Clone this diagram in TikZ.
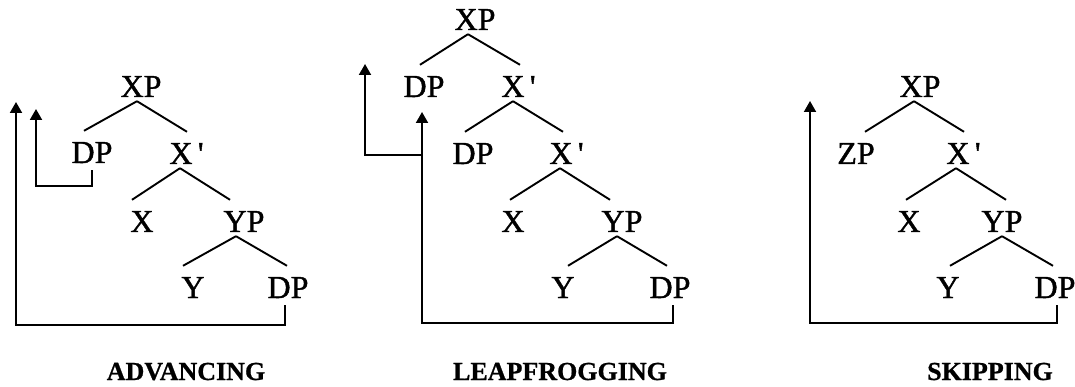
\documentclass[tikz,border=0pt]{standalone}
\usepackage{fontspec}
\setmainfont{Liberation Serif}
\newfontfamily\treefont{Liberation Serif}[FakeBold=1.3]
\newfontfamily\capfont{Liberation Serif Bold}[FakeBold=0.8]
\usetikzlibrary{arrows.meta}
\begin{document}
\begin{tikzpicture}[x=1pt,y=-1pt,
  lab/.style={font=\treefont\fontsize{32}{32}\selectfont, inner sep=0pt, text height=32pt, text depth=4pt, anchor=base},
  captext/.style={font=\capfont\fontsize{26}{26}\selectfont, inner sep=0pt, anchor=base},
  br/.style={line width=1.9pt},
  mv/.style={line width=1.9pt, -{Triangle[width=12pt,length=11pt]}}]
\useasboundingbox (0,0) rectangle (1075,387);

% ---------- ADVANCING ----------
\node[lab] (XP1) at (141,97) {XP};
\node[lab] (DP1) at (92,163) {DP};
\node[lab] (Xb1) at (181,164) {X\rlap{\,'}};
\node[lab] (X1) at (142,232) {X};
\node[lab] (YP1) at (244,232) {YP};
\node[lab] (Y1) at (193,298) {Y};
\node[lab] (DPb1) at (288,298) {DP};
\draw[br] ([xshift=-4pt]XP1.south) -- ([xshift=-8pt]DP1.north);
\draw[br] ([xshift=-4pt]XP1.south) -- ([xshift=6pt]Xb1.north);
\draw[br] ([xshift=-1pt]Xb1.south) -- ([xshift=-10pt]X1.north);
\draw[br] ([xshift=-1pt]Xb1.south) -- ([xshift=-14pt]YP1.north);
\draw[br] ([xshift=-8pt]YP1.south) -- ([xshift=-10pt]Y1.north);
\draw[br] ([xshift=-8pt]YP1.south) -- ([xshift=-1pt]DPb1.north);
\coordinate (t1a) at (36,109);
\coordinate (c1a) at (36,186);
\draw[mv] ([yshift=-3pt]DP1.south) |- (c1a) -- (t1a);
\coordinate (t1b) at (16,102);
\coordinate (c1b) at (16,325);
\draw[mv] ([xshift=-3pt,yshift=-3pt]DPb1.south) |- (c1b) -- (t1b);

% ---------- LEAPFROGGING ----------
\node[lab] (XP2) at (475,30) {XP};
\node[lab] (DP2a) at (424,97) {DP};
\node[lab] (Xb2a) at (513,97) {X\rlap{\,'}};
\node[lab] (DP2b) at (473,164) {DP};
\node[lab] (Xb2b) at (561,164) {X\rlap{\,'}};
\node[lab] (X2) at (513,232) {X};
\node[lab] (YP2) at (622,232) {YP};
\node[lab] (Y2) at (563,298) {Y};
\node[lab] (DPb2) at (670,298) {DP};
\draw[br] ([xshift=-7pt]XP2.south) -- ([xshift=-4pt]DP2a.north);
\draw[br] ([xshift=-7pt]XP2.south) -- ([xshift=7pt]Xb2a.north);
\draw[br] (Xb2a.south) -- ([xshift=-8pt]DP2b.north);
\draw[br] (Xb2a.south) -- ([xshift=2pt]Xb2b.north);
\draw[br] ([xshift=-1pt]Xb2b.south) -- ([xshift=-3pt]X2.north);
\draw[br] ([xshift=-1pt]Xb2b.south) -- ([xshift=-12pt]YP2.north);
\draw[br] ([xshift=-5pt]YP2.south) -- ([xshift=5pt]Y2.north);
\draw[br] ([xshift=-5pt]YP2.south) -- ([xshift=-3pt]DPb2.north);
\coordinate (t2a) at (422,112);
\coordinate (c2b) at (422,323);
\draw[mv] ([xshift=3pt,yshift=-3pt]DPb2.south) |- (c2b) -- (t2a);
\coordinate (j2) at (422,155);
\coordinate (c2a) at (365,155);
\coordinate (t2b) at (365,64);
\draw[mv] (j2) -- (c2a) -- (t2b);

% ---------- SKIPPING ----------
\node[lab] (XP3) at (920,97) {XP};
\node[lab] (ZP3) at (856,164) {ZP};
\node[lab] (Xb3) at (958,164) {X\rlap{\,'}};
\node[lab] (X3) at (909,232) {X};
\node[lab] (YP3) at (1002,232) {YP};
\node[lab] (Y3) at (948,298) {Y};
\node[lab] (DPb3) at (1055,298) {DP};
\draw[br] ([xshift=-6pt]XP3.south) -- ([xshift=9pt]ZP3.north);
\draw[br] ([xshift=-6pt]XP3.south) -- ([xshift=6pt]Xb3.north);
\draw[br] ([xshift=-2pt]Xb3.south) -- ([xshift=-3pt]X3.north);
\draw[br] ([xshift=-2pt]Xb3.south) -- ([xshift=4pt]YP3.north);
\draw[br] (YP3.south) -- ([xshift=2pt]Y3.north);
\draw[br] (YP3.south) -- ([xshift=-2pt]DPb3.north);
\coordinate (t3) at (810,101);
\coordinate (c3) at (810,323);
\draw[mv] ([xshift=2pt,yshift=-3pt]DPb3.south) |- (c3) -- (t3);

% ---------- captions ----------
\node[captext] (L1) at (186,380) {ADVANCING};
\node[captext] (L2) at (560,380) {LEAPFROGGING};
\node[captext] (L3) at (990,380) {SKIPPING};
\end{tikzpicture}
\end{document}
